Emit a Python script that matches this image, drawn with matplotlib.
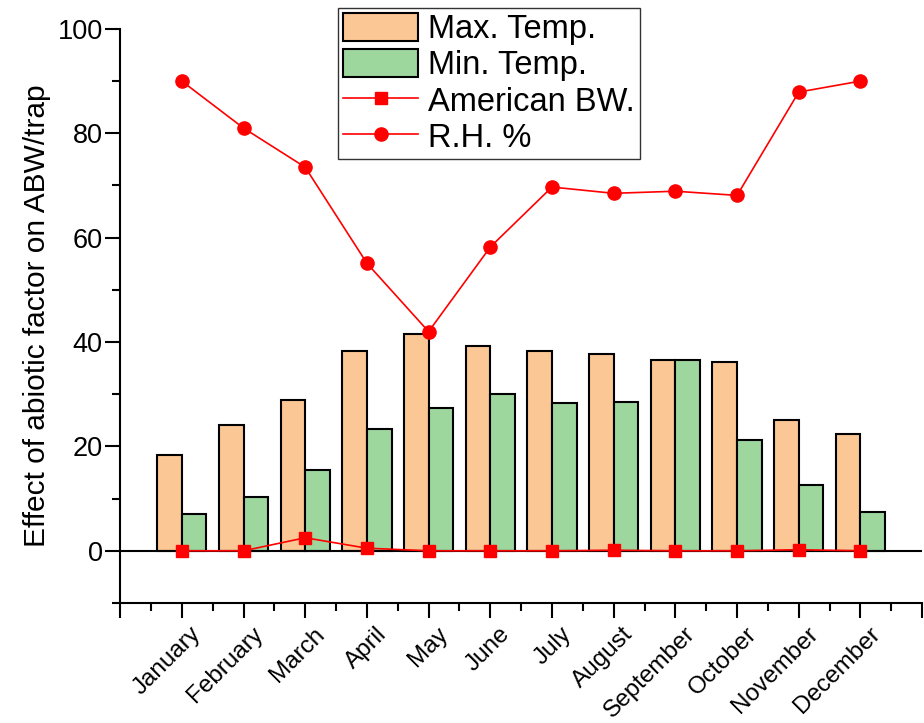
import matplotlib
matplotlib.use("Agg")
import matplotlib.pyplot as plt
from matplotlib.ticker import MultipleLocator, FixedLocator
from matplotlib.transforms import ScaledTranslation
import numpy as np

months = ["January", "February", "March", "April", "May", "June", "July",
          "August", "September", "October", "November", "December"]
max_temp = [18.4, 24.2, 28.8, 38.2, 41.6, 39.3, 38.2, 37.8, 36.5, 36.1, 25.1, 22.3]
min_temp = [7.1, 10.4, 15.5, 23.4, 27.4, 30.0, 28.4, 28.6, 36.5, 21.3, 12.6, 7.5]
american_bw = [0.0, 0.0, 2.5, 0.5, 0.0, 0.0, 0.0, 0.1, 0.0, 0.0, 0.2, 0.0]
rh = [90.0, 81.0, 73.5, 55.1, 42.0, 58.2, 69.7, 68.5, 68.9, 68.1, 87.9, 90.0]

plt.rcParams['font.family'] = ['Liberation Sans', 'DejaVu Sans']

fig = plt.figure(figsize=(9.24, 7.23), dpi=100)
ax = fig.add_axes([0.13, 0.166, 0.868, 0.794])

x = np.arange(1, len(months) + 1)
w = 0.4
b1 = ax.bar(x - w / 2, max_temp, width=w, color="#FBC795", edgecolor="black",
            linewidth=1.5, label="Max. Temp.", zorder=2)
b2 = ax.bar(x + w / 2, min_temp, width=w, color="#9DD79D", edgecolor="black",
            linewidth=1.5, label="Min. Temp.", zorder=2)
ax.axhline(0, color="black", linewidth=1.5, zorder=3)
l1, = ax.plot(x, american_bw, color="red", marker="s", markersize=8,
              linewidth=1.2, label="American BW.", zorder=4)
l2, = ax.plot(x, rh, color="red", marker="o", markersize=9.5,
              linewidth=1.2, label="R.H. %", zorder=4)

ax.set_xlim(0, 13)
ax.set_ylim(-10, 100)
for s in ["top", "right"]:
    ax.spines[s].set_visible(False)
for s in ["left", "bottom"]:
    ax.spines[s].set_linewidth(1.5)

ax.yaxis.set_major_locator(FixedLocator([0, 20, 40, 60, 80, 100]))
ax.yaxis.set_minor_locator(FixedLocator([-10, 10, 30, 50, 70, 90]))
ax.xaxis.set_major_locator(FixedLocator(list(range(0, 14))))
ax.xaxis.set_minor_locator(MultipleLocator(0.5))
ax.set_xticklabels([""] + months + [""])
ax.tick_params(axis="both", which="major", direction="out", length=10.5, width=1.5)
ax.tick_params(axis="both", which="minor", direction="out", length=6, width=1.5)
ax.tick_params(axis="y", labelsize=19.5, pad=2)
ax.tick_params(axis="x", labelsize=17.5, pad=4)
offset = ScaledTranslation(6 / 72, 0, fig.dpi_scale_trans)
for lab in ax.get_xticklabels():
    lab.set_rotation(45)
    lab.set_ha("right")
    lab.set_va("top")
    lab.set_rotation_mode("anchor")
    lab.set_transform(lab.get_transform() + offset)

ax.set_ylabel("Effect of abiotic factor on ABW/trap", fontsize=21.5, labelpad=5)

leg = fig.legend(handles=[b1, b2, l1, l2], loc="upper left",
                 bbox_to_anchor=(0.366, 0.989), fontsize=23.5,
                 handlelength=2.3, handleheight=0.95, labelspacing=0.12,
                 borderpad=0.15, handletextpad=0.3, borderaxespad=0.0,
                 fancybox=False, framealpha=1.0, edgecolor="#333333")
leg.get_frame().set_linewidth(1.0)

fig.savefig("out.png", dpi=100)
